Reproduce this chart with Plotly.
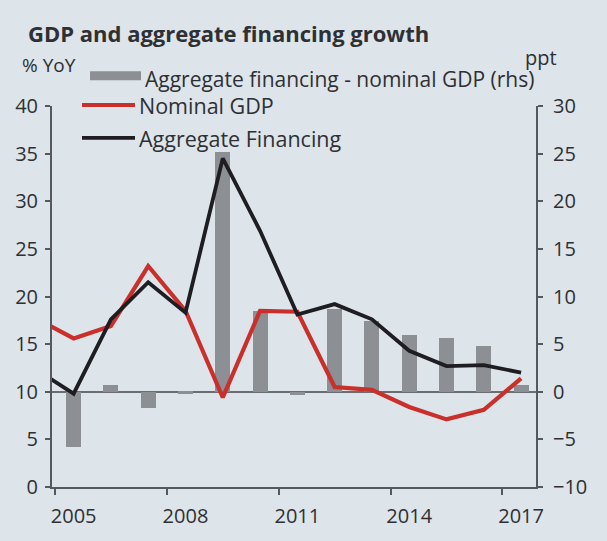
import plotly.graph_objects as go

# Annual series (year-end, % YoY); 2004 only anchors the left edge of the lines
years = [2004, 2005, 2006, 2007, 2008, 2009, 2010, 2011, 2012, 2013, 2014, 2015, 2016, 2017]
nominal_gdp = [17.7, 15.6, 16.9, 23.2, 18.5, 9.4, 18.5, 18.4, 10.5, 10.2, 8.4, 7.1, 8.1, 11.4]
agg_financing = [12.3, 9.8, 17.6, 21.5, 18.3, 34.5, 26.9, 18.1, 19.2, 17.6, 14.3, 12.7, 12.8, 12.0]
financing_gap = [-5.4, -5.8, 0.7, -1.7, -0.2, 25.2, 8.5, -0.3, 8.7, 7.4, 6.0, 5.6, 4.8, 0.7]

x_tick_vals = [2005, 2008, 2011, 2014, 2017]
x_tick_text = ["2005", "2008", "2011", "2014", "2017"]

W, H = 607, 541
L, R, T, B = 52, 71, 106, 52
PW, PH = W - L - R, H - T - B

BG = "#dde4ea"
TXT = "#2e3033"
AX = "#55585c"
RED = "#c9302b"
BLACK = "#1d1d22"
GREY = "#8c8f93"
FONT = "Open Sans"


def px(x):
    return (x - L) / PW


def py(y):
    return (H - B - y) / PH


fig = go.Figure()

fig.add_trace(go.Bar(
    x=years, y=financing_gap, width=0.4,
    marker=dict(color=GREY, line=dict(width=0)),
    yaxis="y", name="Aggregate financing - nominal GDP (rhs)",
))
fig.add_trace(go.Scatter(
    x=years, y=nominal_gdp, mode="lines",
    line=dict(color=RED, width=4.2), yaxis="y2", name="Nominal GDP",
))
fig.add_trace(go.Scatter(
    x=years, y=agg_financing, mode="lines",
    line=dict(color=BLACK, width=3.8), yaxis="y2", name="Aggregate Financing",
))

tick_font = dict(family=FONT, size=20, color=TXT)

fig.update_layout(
    width=W, height=H,
    margin=dict(l=L, r=R, t=T, b=B),
    paper_bgcolor=BG, plot_bgcolor=BG,
    showlegend=False,
    bargap=0,
    xaxis=dict(
        range=[2004.42, 2017.4],
        tickvals=x_tick_vals, ticktext=x_tick_text,
        ticks="", ticklabelstandoff=10,
        tickfont=tick_font,
        showline=True, linecolor=AX, linewidth=2,
        showgrid=False, zeroline=False,
        minor=dict(tick0=2004.5, dtick=3, ticks="outside", ticklen=6,
                   tickwidth=2, tickcolor=AX, showgrid=False),
    ),
    yaxis=dict(
        side="right", range=[-10, 30], dtick=5,
        ticks="outside", ticklen=5, tickwidth=2, tickcolor=AX,
        ticklabelstandoff=6,
        tickfont=tick_font,
        showline=True, linecolor=AX, linewidth=2,
        showgrid=False,
        zeroline=True, zerolinecolor="#6a6d71", zerolinewidth=2,
    ),
    yaxis2=dict(
        side="left", overlaying="y", range=[0, 40], dtick=5,
        ticks="outside", ticklen=5, tickwidth=2, tickcolor=AX,
        ticklabelstandoff=3,
        tickfont=tick_font,
        showline=True, linecolor=AX, linewidth=2,
        showgrid=False, zeroline=False,
    ),
)

# Title and axis unit labels
annotations = [
    dict(text="<b>GDP and aggregate financing growth</b>", x=px(26), y=py(33),
         font=dict(family=FONT, size=22, color=TXT)),
    dict(text="% YoY", x=px(20), y=py(65), font=dict(family=FONT, size=19, color=TXT)),
    dict(text="ppt", x=px(523), y=py(57), font=dict(family=FONT, size=20, color=TXT)),
    dict(text="Aggregate financing - nominal GDP (rhs)", x=px(143), y=py(79),
         font=dict(family=FONT, size=21, color=TXT)),
    dict(text="Nominal GDP", x=px(137), y=py(105), font=dict(family=FONT, size=21.5, color=TXT)),
    dict(text="Aggregate Financing", x=px(137), y=py(139),
         font=dict(family=FONT, size=21.5, color=TXT)),
]
for a in annotations:
    a.update(xref="paper", yref="paper", xanchor="left", yanchor="middle",
             showarrow=False)
fig.update_layout(annotations=annotations)

# Legend swatches
fig.update_layout(shapes=[
    dict(type="rect", xref="paper", yref="paper", x0=px(90), x1=px(141),
         y0=py(80), y1=py(71), fillcolor=GREY, line=dict(width=0)),
    dict(type="line", xref="paper", yref="paper", x0=px(82), x1=px(135),
         y0=py(105), y1=py(105), line=dict(color=RED, width=4.2)),
    dict(type="line", xref="paper", yref="paper", x0=px(82), x1=px(135),
         y0=py(138), y1=py(138), line=dict(color=BLACK, width=3.8)),
])

fig.write_html("out.html")
